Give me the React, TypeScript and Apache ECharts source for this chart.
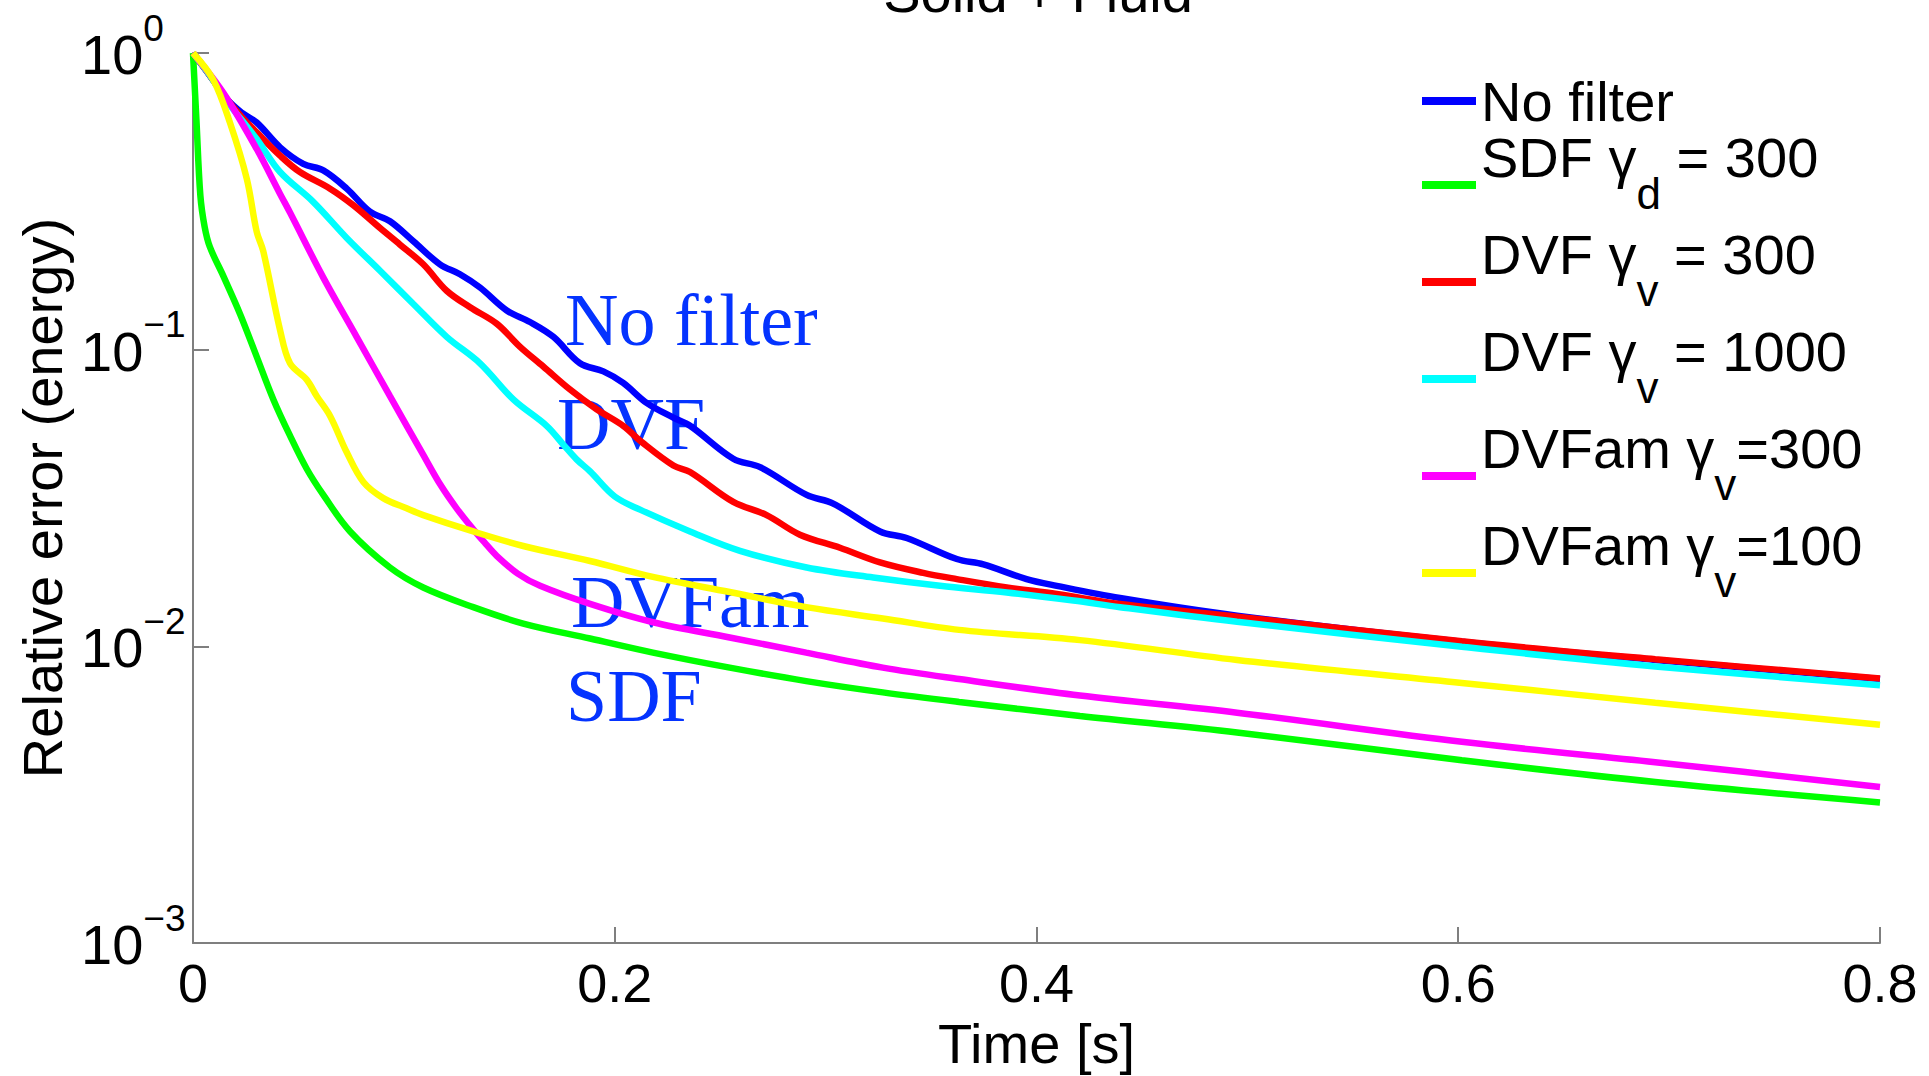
import React, { useEffect, useRef } from 'react';
import * as echarts from 'echarts';

// ---------- data ----------
const seriesNames = ['No filter', 'SDF γd = 300', 'DVF γv = 300', 'DVF γv = 1000', 'DVFam γv=300', 'DVFam γv=100'];
const legendPrefix = ['No filter', 'SDF γ', 'DVF γ', 'DVF γ', 'DVFam γ', 'DVFam γ'];
const legendSub = ['', 'd', 'v', 'v', 'v', 'v'];
const legendSuffix = ['', ' = 300', ' = 300', ' = 1000', '=300', '=100'];

const xTickValues = [0, 0.2, 0.4, 0.6, 0.8];
const xTickLabels = ['0', '0.2', '0.4', '0.6', '0.8'];
const yTickExponents = [0, -1, -2, -3];
const yTickSuperscripts = ['0', '−1', '−2', '−3'];

const titleText = 'Solid + Fluid';
const xAxisName = 'Time [s]';
const yAxisName = 'Relative error (energy)';
const annotationTexts = ['No filter', 'DVF', 'DVFam', 'SDF'];

const noFilter: [number, number][] = [
  [0, 1], [0.008, 0.84], [0.016, 0.70], [0.023, 0.63], [0.0302, 0.583], [0.0413, 0.481],
  [0.0523, 0.423], [0.0618, 0.402], [0.0729, 0.349], [0.0839, 0.292], [0.0934, 0.271],
  [0.1045, 0.232], [0.1171, 0.194], [0.1266, 0.1796], [0.1361, 0.162], [0.1488, 0.1356],
  [0.1598, 0.124], [0.1709, 0.1105], [0.1835, 0.090], [0.1946, 0.0845], [0.204, 0.0773],
  [0.2151, 0.0662], [0.2278, 0.059], [0.2357, 0.0554], [0.2562, 0.0429], [0.2689, 0.0402],
  [0.291, 0.0324], [0.3036, 0.0303], [0.3258, 0.0244], [0.3384, 0.0232], [0.3622, 0.0197],
  [0.3748, 0.0189], [0.3953, 0.01686], [0.4096, 0.016], [0.4396, 0.01456], [0.4951, 0.0127],
  [0.6017, 0.01037], [0.6934, 0.009], [0.8, 0.00776],
];
const sdf300: [number, number][] = [
  [0, 1], [0.0016, 0.6], [0.0035, 0.33], [0.0055, 0.26], [0.008, 0.222], [0.0144, 0.177],
  [0.0223, 0.132], [0.0302, 0.0948], [0.0381, 0.068], [0.046, 0.0513], [0.0539, 0.0397],
  [0.0618, 0.0324], [0.0745, 0.0244], [0.0934, 0.01845], [0.1092, 0.0158], [0.1329, 0.01356],
  [0.1566, 0.01194], [0.1883, 0.01063], [0.2181, 0.00953], [0.2545, 0.00848], [0.2908, 0.00764],
  [0.3271, 0.0070], [0.3633, 0.0065], [0.4206, 0.00583], [0.4951, 0.00513], [0.6017, 0.00413],
  [0.6934, 0.00349], [0.8, 0.00298],
];
const dvf300: [number, number][] = [
  [0, 1], [0.008, 0.84], [0.016, 0.70], [0.023, 0.61], [0.0302, 0.540], [0.0413, 0.451],
  [0.0507, 0.397], [0.065, 0.349], [0.076, 0.307], [0.0887, 0.257], [0.0982, 0.226],
  [0.1092, 0.194], [0.1203, 0.158], [0.1314, 0.139], [0.144, 0.1224], [0.1551, 0.1023],
  [0.1661, 0.0878], [0.1788, 0.0734], [0.1914, 0.063], [0.204, 0.0554], [0.213, 0.0487],
  [0.2278, 0.0407], [0.2357, 0.0387], [0.2562, 0.0307], [0.272, 0.0277], [0.2878, 0.0238],
  [0.3068, 0.0215], [0.3258, 0.0192], [0.3463, 0.0177], [0.3622, 0.01686], [0.3859, 0.0158],
  [0.4096, 0.01502], [0.4396, 0.0139], [0.4951, 0.0126], [0.6017, 0.0104], [0.6934, 0.00905],
  [0.8, 0.0078],
];
const dvf1000: [number, number][] = [
  [0, 1], [0.008, 0.84], [0.016, 0.69], [0.0302, 0.513], [0.0413, 0.397], [0.057, 0.315],
  [0.0729, 0.238], [0.0887, 0.1845], [0.1045, 0.1426], [0.1203, 0.1105], [0.1361, 0.090],
  [0.1519, 0.068], [0.1677, 0.0554], [0.1756, 0.0479], [0.1819, 0.0427], [0.1883, 0.0389],
  [0.2, 0.032], [0.212, 0.0289], [0.2357, 0.0244], [0.2594, 0.0210], [0.291, 0.01845],
  [0.3226, 0.01706], [0.3542, 0.016], [0.3859, 0.0152], [0.4175, 0.01427], [0.4396, 0.01356],
  [0.4951, 0.0121], [0.6017, 0.00997], [0.6934, 0.00856], [0.8, 0.0074],
];
const dvfam300: [number, number][] = [
  [0, 1], [0.0144, 0.734], [0.0302, 0.475], [0.0413, 0.335], [0.046, 0.29], [0.0618, 0.175],
  [0.0776, 0.1105], [0.0934, 0.0697], [0.1092, 0.0442], [0.1175, 0.0349], [0.125, 0.0292],
  [0.1329, 0.0248], [0.1385, 0.0223], [0.144, 0.0202], [0.154, 0.0176], [0.1646, 0.016],
  [0.1883, 0.0139], [0.2181, 0.01206], [0.2545, 0.01072], [0.2908, 0.00953], [0.3271, 0.00848],
  [0.3633, 0.00776], [0.4206, 0.00683], [0.4951, 0.00598], [0.6017, 0.00477], [0.6934, 0.00407],
  [0.8, 0.00336],
];
const dvfam100: [number, number][] = [
  [0, 1], [0.0096, 0.813], [0.0175, 0.583], [0.0255, 0.377], [0.0302, 0.25], [0.0333, 0.215],
  [0.0413, 0.1164], [0.046, 0.0900], [0.0539, 0.0793], [0.0587, 0.0697], [0.065, 0.0598],
  [0.0729, 0.0451], [0.0808, 0.0358], [0.0902, 0.0316], [0.1013, 0.0292], [0.1092, 0.0277],
  [0.1329, 0.0244], [0.1566, 0.0218], [0.1883, 0.0194], [0.2181, 0.01715], [0.2545, 0.01525],
  [0.2908, 0.01356], [0.3271, 0.01242], [0.3633, 0.01137], [0.4206, 0.0105], [0.4951, 0.009],
  [0.6017, 0.00753], [0.6934, 0.00646], [0.8, 0.00544],
];
const seriesData = [noFilter, sdf300, dvf300, dvf1000, dvfam300, dvfam100];

// ---------- styles ----------
const seriesColors = ['#0000ff', '#00ff00', '#ff0000', '#00ffff', '#ff00ff', '#ffff00'];
const SANS = '"Liberation Sans", Arial, Helvetica, sans-serif';
const SERIF = '"Liberation Serif", "Times New Roman", serif';
const AXIS_COLOR = '#7f7f7f';
const ANNOT_COLOR = '#0433ff';

export default function App() {
  const ref = useRef<HTMLDivElement>(null);

  useEffect(() => {
    if (!ref.current) return;
    const chart = echarts.init(ref.current, undefined, { renderer: 'svg' });

    const legendFormatter = (name: string) => {
      const i = seriesNames.indexOf(name);
      if (i < 0) return name;
      if (!legendSub[i]) return `{p|${legendPrefix[i]}}`;
      return `{m|${legendPrefix[i]}}{s|${legendSub[i]}}{m|${legendSuffix[i]}}`;
    };

    const annot = (k: number, x: number, y: number) => ({
      type: 'text',
      x,
      y,
      style: {
        text: annotationTexts[k],
        font: `74px ${SERIF}`,
        fill: ANNOT_COLOR,
        align: 'left',
        verticalAlign: 'middle',
      },
    });

    const option: any = {
      animation: false,
      backgroundColor: '#ffffff',
      grid: { left: 193, right: 49, top: 53, bottom: 123, containLabel: false },
      xAxis: {
        type: 'value',
        min: 0,
        max: 0.8,
        interval: 0.2,
        axisLine: { show: true, onZero: false, lineStyle: { color: AXIS_COLOR, width: 2 } },
        axisTick: { show: true, inside: true, length: 16, lineStyle: { color: AXIS_COLOR, width: 2 } },
        splitLine: { show: false },
        axisLabel: {
          margin: 40,
          verticalAlign: 'middle',
          fontSize: 54,
          fontFamily: SANS,
          color: '#000',
          showMinLabel: true,
          showMaxLabel: true,
          formatter: (v: number) => {
            let best = 0;
            xTickValues.forEach((t, k) => {
              if (Math.abs(t - v) < Math.abs(xTickValues[best] - v)) best = k;
            });
            return xTickLabels[best];
          },
        },
        name: xAxisName,
        nameLocation: 'middle',
        nameGap: 88,
        nameTextStyle: { fontSize: 56, fontFamily: SANS, color: '#000', verticalAlign: 'middle', align: 'center' },
      },
      yAxis: {
        type: 'log',
        logBase: 10,
        min: 0.001,
        max: 1,
        axisLine: { show: true, lineStyle: { color: AXIS_COLOR, width: 2 } },
        axisTick: { show: true, inside: true, length: 16, lineStyle: { color: AXIS_COLOR, width: 2 } },
        minorTick: { show: false },
        splitLine: { show: false },
        axisLabel: {
          align: 'left',
          verticalAlign: 'middle',
          margin: 112,
          lineHeight: 70,
          color: '#000',
          fontFamily: SANS,
          showMinLabel: true,
          showMaxLabel: true,
          formatter: (v: number) => {
            const e = Math.round(Math.log10(v));
            const k = yTickExponents.indexOf(e);
            return `{b|10}{s|${k >= 0 ? yTickSuperscripts[k] : String(e)}}`;
          },
          rich: {
            b: { fontSize: 56, fontFamily: SANS, color: '#000', height: 67, lineHeight: 70, verticalAlign: 'bottom' },
            s: { fontSize: 37, fontFamily: SANS, color: '#000', height: 20, lineHeight: 70, verticalAlign: 'top' },
          },
        },
        name: yAxisName,
        nameLocation: 'middle',
        nameGap: 151,
        nameTextStyle: { fontSize: 56, fontFamily: SANS, color: '#000', verticalAlign: 'middle', align: 'center' },
      },
      legend: {
        orient: 'vertical',
        left: 1422,
        top: 73,
        padding: 0,
        itemGap: 0,
        itemWidth: 54,
        itemHeight: 8,
        selectedMode: false,
        data: seriesNames.map((n) => ({ name: n, icon: 'rect' })),
        formatter: legendFormatter,
        textStyle: {
          fontSize: 56,
          fontFamily: SANS,
          color: '#000',
          rich: {
            p: { fontSize: 56, fontFamily: SANS, color: '#000', lineHeight: 78 },
            m: { fontSize: 56, fontFamily: SANS, color: '#000', height: 26, lineHeight: 82, verticalAlign: 'top' },
            s: { fontSize: 44, fontFamily: SANS, color: '#000', height: 65, lineHeight: 82, verticalAlign: 'bottom' },
          },
        },
      },
      series: seriesData.map((d, i) => ({
        name: seriesNames[i],
        type: 'line',
        data: d,
        showSymbol: false,
        symbol: 'none',
        smooth: 0.35,
        lineStyle: { color: seriesColors[i], width: 6.5 },
        itemStyle: { color: seriesColors[i] },
        emphasis: { disabled: true },
      })),
      graphic: [
        {
          type: 'text',
          x: 1038,
          y: -8,
          style: { text: titleText, font: `56px ${SANS}`, fill: '#000', align: 'center', verticalAlign: 'middle' },
        },
        annot(0, 565, 320),
        annot(1, 557, 424),
        annot(2, 571, 602),
        annot(3, 566, 696),
      ],
    };

    chart.setOption(option);
    return () => chart.dispose();
  }, []);

  return (
    <div
      ref={ref}
      style={{ position: 'fixed', left: 0, top: 0, width: 1929, height: 1076, background: '#fff' }}
    />
  );
}
